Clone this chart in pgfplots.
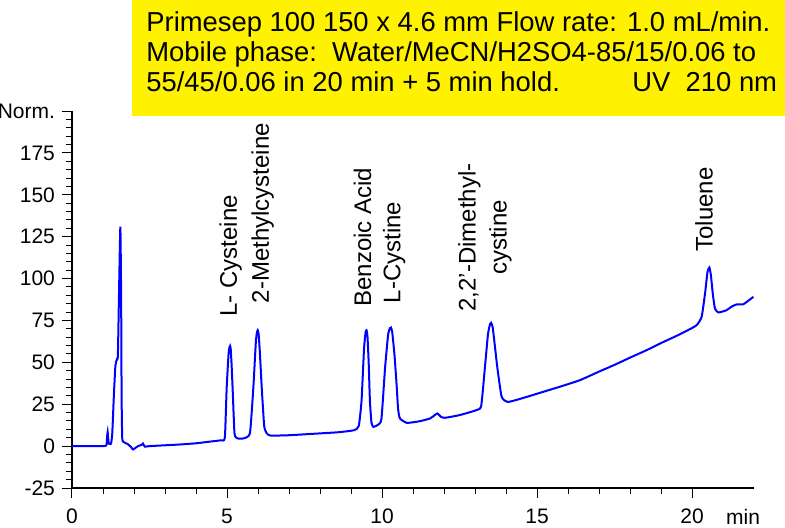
\documentclass[border=0pt]{standalone}
\usepackage{fontspec}
\setmainfont{Liberation Sans}
\usepackage{pgfplots}
\pgfplotsset{compat=1.18}

\begin{document}
\begin{tikzpicture}
% fixed page frame: 1 px of the reference = 0.5pt
\useasboundingbox (-36pt,-19.5pt) rectangle (356.5pt,244pt);

\begin{axis}[
    at={(0,0)}, anchor=south west,
    scale only axis,
    width=341pt, height=188.5pt,
    xmin=0, xmax=22, ymin=-25, ymax=200,
    axis lines*=left,
    axis line style={black, line width=0.6pt},
    xtick={0,5,...,20},
    ytick={-25,0,...,200},
    yticklabels={-25,0,25,50,75,100,125,150,175,Norm.},
    minor x tick num=4, minor y tick num=4,
    tick align=outside,
    major tick length=5pt, minor tick length=3pt,
    tick style={black, line width=0.5pt},
    ticklabel style={font=\fontsize{10.5}{12}\selectfont},
    xticklabel style={yshift=-2pt},
    /pgf/number format/assume math mode=true,
    extra x ticks={21.65},
    extra x tick labels={min},
    extra x tick style={tick style={draw=none}},
]

% chromatogram
\addplot[blue, line width=1pt, smooth, tension=0.3] coordinates {
 (0,0) (0.8,0) (1.10,0.3) (1.13,5) (1.15,8.5) (1.17,4) (1.19,1.5) (1.26,1.5)
 (1.30,8) (1.35,30) (1.40,48) (1.45,52) (1.48,54) (1.52,95) (1.56,131)
 (1.585,90) (1.60,30) (1.62,5) (1.66,2.5) (1.80,1.2) (1.90,-0.5) (1.97,-2)
 (2.05,-1) (2.13,0) (2.25,0.8) (2.29,1.5) (2.35,-0.3) (2.5,0) (2.8,0.3)
 (3.5,1) (4.0,1.7) (4.5,2.8) (4.8,3.5) (4.93,5) (4.99,35) (5.05,55)
 (5.08,59) (5.10,59.8) (5.12,58) (5.15,48) (5.18,35) (5.24,8) (5.30,5)
 (5.40,4.4) (5.55,4.7) (5.74,7.7) (5.85,35) (5.93,62) (5.97,68.5) (5.99,69.2)
 (6.02,67) (6.06,56) (6.12,35) (6.20,12) (6.28,7.7) (6.4,6.3) (7.0,6.5)
 (8.0,7.6) (8.6,8.3) (9.1,9.5) (9.25,12) (9.34,27) (9.42,58) (9.47,68)
 (9.50,69.2) (9.53,66) (9.57,50) (9.61,27) (9.66,14) (9.72,11.5) (9.85,12.5)
 (9.98,16) (10.10,47) (10.20,67) (10.26,70.5) (10.29,70.8) (10.33,68)
 (10.40,55) (10.47,37) (10.52,22) (10.58,16.5) (10.8,13.9) (11.2,14.8)
 (11.55,16.5) (11.7,18.5) (11.79,19.5) (11.9,17.5) (12.03,16.9) (12.5,18.5)
 (13.05,21.5) (13.2,24) (13.32,47) (13.42,67) (13.49,73) (13.52,73.6)
 (13.57,71) (13.64,60) (13.72,47) (13.86,29.4) (14.07,26.4) (14.6,29)
 (15.2,32.4) (15.8,35.8) (16.39,39.4) (16.98,44.3) (17.5,48.5) (18.0,52.8)
 (18.54,57.3) (19.0,61.5) (19.5,65.8) (19.9,69.5) (20.15,72.2) (20.31,77.1)
 (20.42,91) (20.50,104) (20.56,106.6) (20.61,102) (20.67,91) (20.74,82.1)
 (20.85,79.8) (21.1,81) (21.3,83.5) (21.45,84.6) (21.66,84.7) (21.98,89.1)
};

% peak names
\begin{scope}[every node/.style={rotate=90, anchor=west, inner sep=0pt,
    font=\fontsize{12}{15.5}\selectfont, align=center}]
  \node at (axis cs:5.12,77.1) {L- Cysteine};
  \node at (axis cs:6.15,85.1) {2-Methylcysteine};
  \node at (axis cs:9.37,83.1) {Benzoic Acid};
  \node at (axis cs:10.39,85.1) {L-Cystine};
  \node at (axis cs:13.32,80.1) {2,2'-Dimethyl-\\cystine};
  \node at (axis cs:20.39,115.9) {Toluene};
\end{scope}
\end{axis}

% method box
\fill[yellow] (30pt,186pt) rectangle (356.5pt,244pt);
\begin{scope}[every node/.style={anchor=base west, inner sep=0pt,
    font=\fontsize{13.7}{15}\selectfont}]
  \node at (37pt,228.5pt) {Primesep 100 150 x 4.6 mm Flow rate: 1.0 mL/min.};
  \node at (37pt,213.5pt) {Mobile phase:\ \ Water/MeCN/H2SO4-85/15/0.06 to};
  \node at (37pt,198.5pt) {55/45/0.06 in 20 min + 5 min hold.};
  \node at (280pt,198.5pt) {UV\ \ 210 nm};
\end{scope}
\end{tikzpicture}
\end{document}
